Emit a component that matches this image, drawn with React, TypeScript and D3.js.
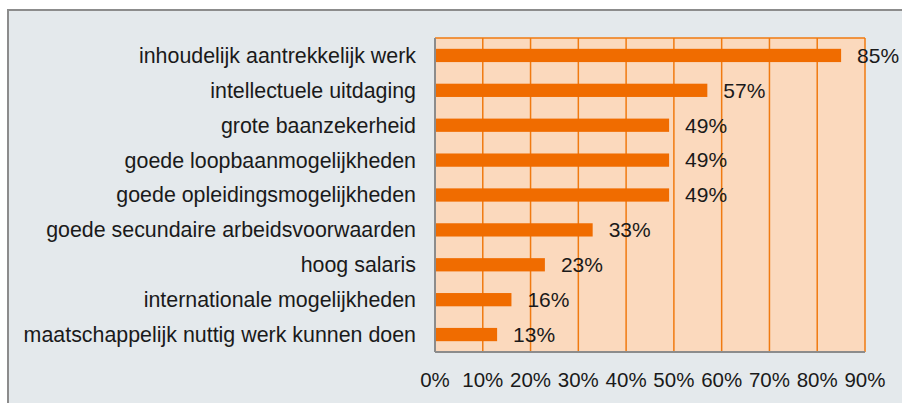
import React from 'react'
import * as d3 from 'd3'

const categories = [
  'inhoudelijk aantrekkelijk werk',
  'intellectuele uitdaging',
  'grote baanzekerheid',
  'goede loopbaanmogelijkheden',
  'goede opleidingsmogelijkheden',
  'goede secundaire arbeidsvoorwaarden',
  'hoog salaris',
  'internationale mogelijkheden',
  'maatschappelijk nuttig werk kunnen doen',
]
const values = [85, 57, 49, 49, 49, 33, 23, 16, 13]
const ticks = [0, 10, 20, 30, 40, 50, 60, 70, 80, 90]

const W = 902
const H = 403
const left = 435
const right = 865
const top = 38
const bottom = 352

export default function App() {
  const x = d3.scaleLinear().domain([0, 90]).range([left, right])
  const y = d3.scaleBand().domain(categories).range([top, bottom]).paddingInner(0.62).paddingOuter(0.31)
  const font = '"Liberation Sans", Arial, sans-serif'

  return (
    <svg width={W} height={H} style={{ position: 'absolute', left: 0, top: 0 }} fontFamily={font}>
      <rect x={0} y={0} width={W} height={H} fill="#fff" />
      {/* outer frame, cut off at right and bottom */}
      <rect x={8} y={10} width={W} height={H} fill="#e4e9ec" stroke="#8c8c8c" strokeWidth={2} />

      <rect x={left} y={top} width={right - left} height={bottom - top} fill="#fbd9bd" />
      {ticks.slice(1).map(t => (
        <line key={t} x1={x(t)} x2={x(t)} y1={top} y2={bottom} stroke="#f07a10" strokeWidth={1.5} />
      ))}
      <line x1={left} x2={right} y1={top} y2={top} stroke="#f07a10" strokeWidth={1.5} />

      {categories.map((c, i) => (
        <g key={c}>
          <rect x={x(0)} y={y(c)!} width={x(values[i]) - x(0)} height={y.bandwidth()} fill="#f06c00" />
          <text x={left - 19} y={y(c)! + y.bandwidth() / 2} dy="0.35em" textAnchor="end" fontSize={21.4} fill="#1a1a1a">
            {c}
          </text>
          <text x={x(values[i]) + 16} y={y(c)! + y.bandwidth() / 2} dy="0.35em" fontSize={21} fill="#1a1a1a">
            {values[i]}%
          </text>
        </g>
      ))}

      {/* axis lines */}
      <line x1={left} x2={left} y1={top} y2={bottom} stroke="#8c8c8c" strokeWidth={2} />
      <line x1={left} x2={right} y1={bottom} y2={bottom} stroke="#8c8c8c" strokeWidth={2} />

      {ticks.map(t => (
        <text key={t} x={x(t)} y={380} dy="0.35em" textAnchor="middle" fontSize={20.5} fill="#1a1a1a">
          {t}%
        </text>
      ))}
    </svg>
  )
}
